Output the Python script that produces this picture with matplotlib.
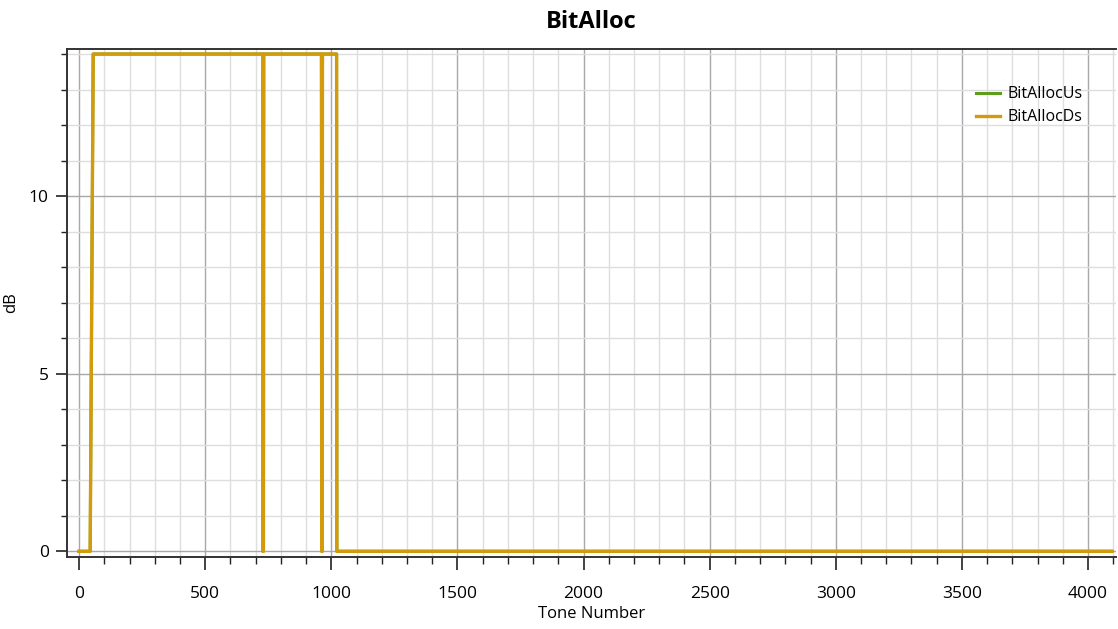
import matplotlib
matplotlib.use("Agg")
import matplotlib.pyplot as plt
from matplotlib.ticker import MultipleLocator

# Bit allocation per tone (breakpoints of the step trace)
tones_ds = [0, 44, 56, 728, 729, 731, 732, 961, 962, 964, 965, 1021, 1022, 1023, 4095]
bits_ds = [0, 0, 14, 14, 0, 0, 14, 14, 0, 0, 14, 14, 0, 0, 0]
tones_us = tones_ds
bits_us = bits_ds

title = "BitAlloc"
xlabel = "Tone Number"
ylabel = "dB"
series_names = ["BitAllocUs", "BitAllocDs"]

plt.rcParams["font.family"] = ["Open Sans", "DejaVu Sans"]

fig = plt.figure(figsize=(11.18, 6.29), dpi=100)
ax = fig.add_axes([0.0599, 0.1145, 0.9385, 0.8075])

ax.plot(tones_us, bits_us, color="#5c9e1c", lw=2.2, label=series_names[0], zorder=3)
ax.plot(tones_ds, bits_ds, color="#d39b0c", lw=2.4, label=series_names[1], zorder=4)

ax.set_xlim(-48, 4112)
ax.set_ylim(-0.16, 14.14)
ax.xaxis.set_major_locator(MultipleLocator(500))
ax.xaxis.set_minor_locator(MultipleLocator(100))
ax.yaxis.set_major_locator(MultipleLocator(5))
ax.yaxis.set_minor_locator(MultipleLocator(1))

ax.grid(which="major", color="#a8a8a8", lw=1.0, zorder=0)
ax.grid(which="minor", color="#dedede", lw=1.0, zorder=0)
ax.set_axisbelow(True)

ax.tick_params(which="major", length=8, width=1.2, color="#222222", labelsize=12.5, pad=5)
ax.tick_params(which="minor", length=4.5, width=1.0, color="#222222")
ax.tick_params(axis="x", which="major", length=9, pad=12)
ax.tick_params(axis="x", which="minor", length=5)
for side in ["left", "bottom", "top"]:
    ax.spines[side].set_color("#333333")
    ax.spines[side].set_linewidth(1.4)
ax.spines["right"].set_visible(False)

ax.set_title(title, fontsize=17, fontweight="bold", pad=15)
ax.set_xlabel(xlabel, fontsize=12, labelpad=3)
ax.set_ylabel(ylabel, fontsize=12)
ax.yaxis.set_label_coords(-0.046, 0.5)

ax.legend(loc="upper right", frameon=False, fontsize=11.5, handlelength=1.5,
          handletextpad=0.5, labelspacing=0.45, bbox_to_anchor=(0.982, 0.955))

fig.savefig("out.png", dpi=100)
